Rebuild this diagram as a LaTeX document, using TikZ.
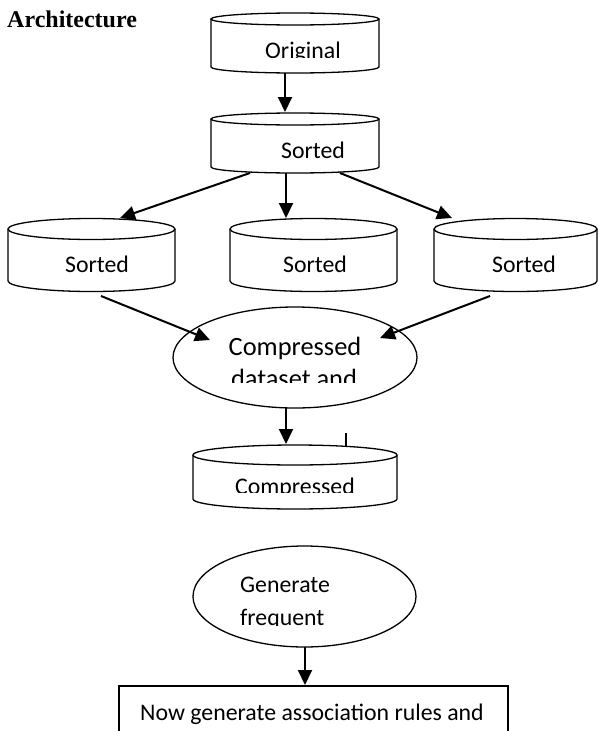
\documentclass[tikz,border=0pt]{standalone}
\usepackage{fontspec}
\setmainfont{Carlito}
\newfontfamily\timesfont{Liberation Serif}
\usetikzlibrary{arrows.meta}
\tikzset{
  outline/.style={draw=black, line width=1.3pt},
  conn/.style={draw=black, line width=2pt, -{Triangle[length=15pt,width=14pt]}},
  plain/.style={draw=black, line width=2pt},
  lbl/.style={inner sep=0pt, font=\fontsize{23.8}{28}\selectfont},
  biglbl/.style={inner sep=0pt, font=\fontsize{26.4}{32}\selectfont},
}
\newcommand\mycyl[5]{% cx, top-y, bottom-y, rx, ry
  \draw[outline, fill=white] (#1-#4,#2) -- (#1-#4,#3) arc[start angle=180,end angle=360,x radius=#4pt,y radius=#5pt] -- (#1+#4,#2);
  \draw[outline] (#1,#2) ellipse[x radius=#4pt, y radius=#5pt];
}
\begin{document}
\begin{tikzpicture}[x=1pt,y=-1pt]
\clip (0,0) rectangle (598,731);
\fill[white] (0,0) rectangle (598,731);

% title
\node[inner sep=0pt, anchor=base west, font=\timesfont\bfseries\fontsize{24}{28}\selectfont] (title) at (7,27) {Architecture};

% cylinders
\mycyl{295}{19}{67}{84}{6}
\mycyl{295}{119}{167}{84}{6}
\mycyl{91.5}{229}{281}{83.5}{10.5}
\mycyl{313.5}{229}{281}{83.5}{10.5}
\mycyl{515.5}{229}{281}{81.5}{10.5}
\mycyl{295}{455}{499}{102}{10}

% ellipses
\draw[outline] (295,357.5) ellipse[x radius=122pt, y radius=50.5pt];
\draw[outline] (304.5,596.5) ellipse[x radius=111.5pt, y radius=50.5pt];

% box
\draw[outline] (119,740) -- (119,686) -- (508,686) -- (508,740);

% texts
\begin{scope}
  \clip (0,0) rectangle (598,57);
  \node[lbl, anchor=base] (orig) at (303,58) {Original};
\end{scope}
\node[lbl, anchor=base] (sorted0) at (313,158) {Sorted};
\node[lbl, anchor=base] (sortedL) at (97,272) {Sorted};
\node[lbl, anchor=base] (sortedM) at (315,272) {Sorted};
\node[lbl, anchor=base] (sortedR) at (524,272) {Sorted};
\node[biglbl, anchor=base] (comp1) at (295,355) {Compressed};
\begin{scope}
  \clip (0,300) rectangle (598,382);
  \node[biglbl, anchor=base] (comp2) at (294,387) {dataset and};
\end{scope}
\begin{scope}
  \clip (0,460) rectangle (598,492);
  \node[lbl, anchor=base] (compc) at (295,494) {Compressed};
\end{scope}
\node[lbl, anchor=base west] (gen1) at (240,592) {Generate};
\begin{scope}
  \clip (0,600) rectangle (598,625);
  \node[lbl, anchor=base west] (gen2) at (240,625) {frequent};
\end{scope}
\node[lbl, anchor=base west] (rules) at (140,720) {Now generate association rules and};

% connector end points
\coordinate (a1s) at (285,73);   \coordinate (a1e) at (285,112);
\coordinate (a2s) at (250,173);  \coordinate (a2e) at (120,218);
\coordinate (a3s) at (286,173);  \coordinate (a3e) at (286,218);
\coordinate (a4s) at (340,173);  \coordinate (a4e) at (452,218);
\coordinate (a5s) at (101,296);  \coordinate (a5e) at (210,340);
\coordinate (a6s) at (490,296);  \coordinate (a6e) at (380,338);
\coordinate (a7s) at (286,408);  \coordinate (a7e) at (286,444);
\coordinate (t1s) at (346,433);  \coordinate (t1e) at (346,446);
\coordinate (a8s) at (305,647);  \coordinate (a8e) at (305,685);

\draw[conn] (a1s) -- (a1e);
\draw[conn] (a2s) -- (a2e);
\draw[conn] (a3s) -- (a3e);
\draw[conn] (a4s) -- (a4e);
\draw[conn] (a5s) -- (a5e);
\draw[conn] (a6s) -- (a6e);
\draw[conn] (a7s) -- (a7e);
\draw[plain] (t1s) -- (t1e);
\draw[conn] (a8s) -- (a8e);
\end{tikzpicture}
\end{document}
